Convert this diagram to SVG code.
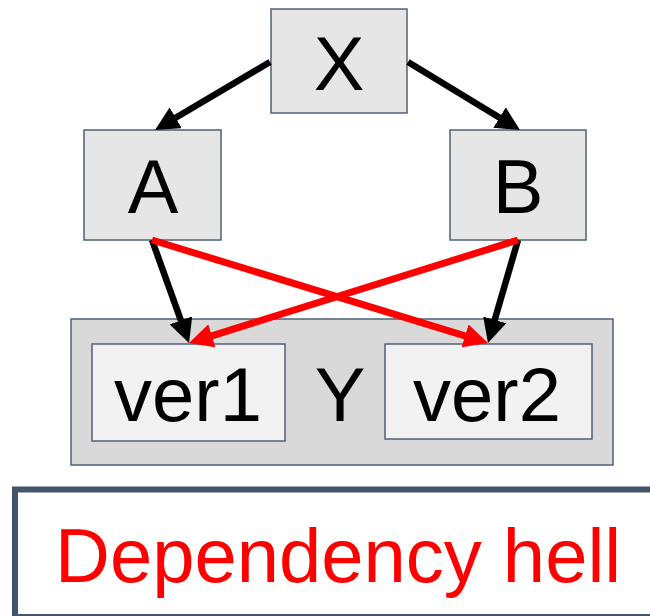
<svg xmlns="http://www.w3.org/2000/svg" width="650" height="616" viewBox="0 0 650 616">
  <style>
    .box { fill: #E6E6E6; stroke: #4F6078; stroke-width: 1.5; }
    .outer { fill: #D9D9D9; stroke: #4F6078; stroke-width: 1.5; }
    .inner { fill: #F2F2F2; stroke: #4F6078; stroke-width: 1.5; }
    .lbl { font-family: "Liberation Sans", Arial, sans-serif; font-size: 76px; fill: #000; text-anchor: middle; }
    .dep { stroke: #000; stroke-width: 6.5; fill: none; marker-end: url(#headBlack); }
    .conflict { stroke: #FF0000; stroke-width: 7; fill: none; marker-end: url(#headRed); }
  </style>
  <defs>
    <marker id="headBlack" markerUnits="userSpaceOnUse" markerWidth="24" markerHeight="24" refX="5" refY="12" orient="auto">
      <path d="M0,0 L24,12 L0,24 z" fill="#000"/>
    </marker>
    <marker id="headRed" markerUnits="userSpaceOnUse" markerWidth="24" markerHeight="24" refX="5" refY="12" orient="auto">
      <path d="M0,0 L24,12 L0,24 z" fill="#FF0000"/>
    </marker>
  </defs>

  <rect width="650" height="616" fill="#FFFFFF"/>

  <g id="node-X">
    <rect class="box" x="271" y="9" width="136" height="104"/>
    <text class="lbl" x="339" y="90">X</text>
  </g>
  <g id="node-A">
    <rect class="box" x="84" y="130" width="137" height="110"/>
    <text class="lbl" x="153" y="213">A</text>
  </g>
  <g id="node-B">
    <rect class="box" x="450" y="130" width="136" height="110"/>
    <text class="lbl" x="518" y="213">B</text>
  </g>
  <g id="node-Y">
    <rect class="outer" x="71" y="319" width="542" height="146"/>
    <text class="lbl" x="340" y="421">Y</text>
  </g>
  <g id="node-ver1">
    <rect class="inner" x="92" y="344" width="193" height="97"/>
    <text class="lbl" x="188" y="421">ver1</text>
  </g>
  <g id="node-ver2">
    <rect class="inner" x="385" y="344" width="207" height="95"/>
    <text class="lbl" x="487" y="421">ver2</text>
  </g>

  <g id="connectors">
    <line class="dep" x1="270" y1="62" x2="171.4" y2="120.3"/>
    <line class="dep" x1="408" y1="62" x2="503.8" y2="120.2"/>
    <line class="dep" x1="152" y1="240" x2="182.6" y2="325.1"/>
    <line class="dep" x1="518" y1="240" x2="493.3" y2="324.7"/>
    <line class="conflict" x1="152" y1="240" x2="469.8" y2="337.4"/>
    <line class="conflict" x1="518" y1="240" x2="207.1" y2="337.3"/>
  </g>

  <g id="caption">
    <rect x="15" y="489.5" width="700" height="127.5" fill="#FFFFFF" stroke="#44546A" stroke-width="6"/>
    <text x="55" y="582" font-family="'Liberation Sans', Arial, sans-serif" font-size="76" fill="#FF0000">Dependency hell</text>
  </g>
</svg>
